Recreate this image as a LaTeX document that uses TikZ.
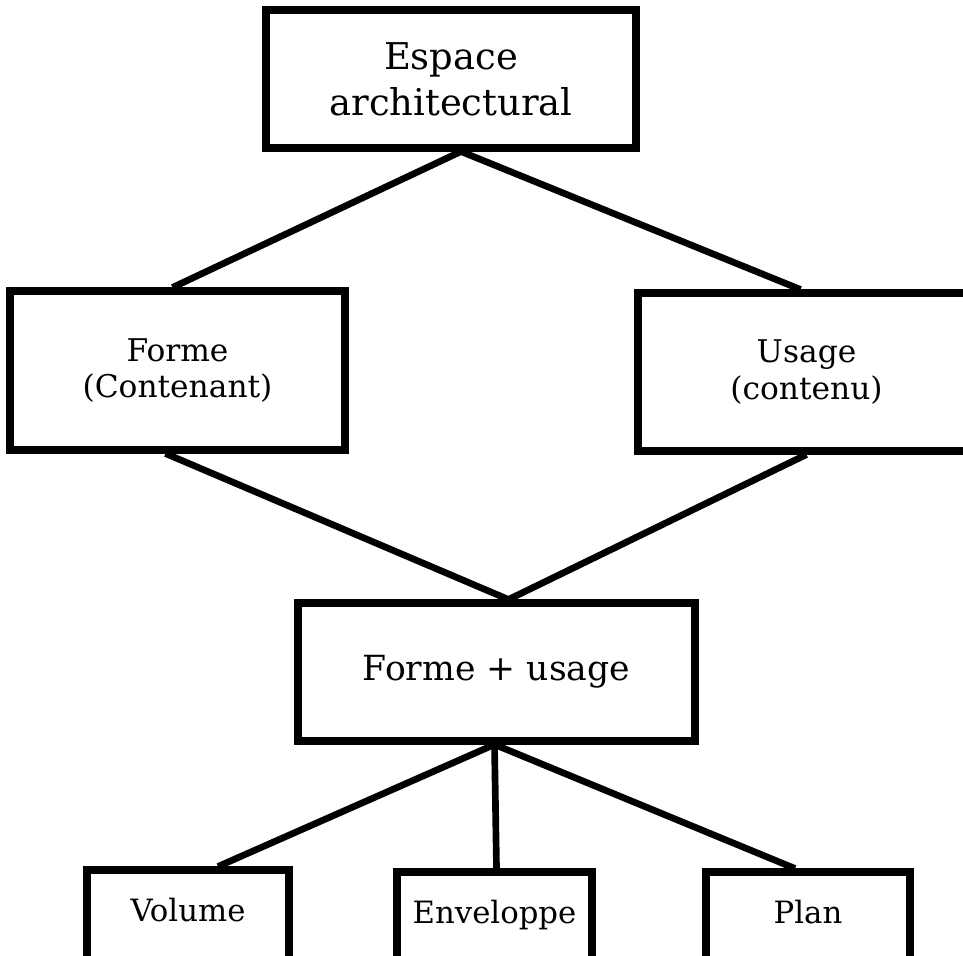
\documentclass[tikz,border=0pt]{standalone}
\usepackage{fontspec}
\setmainfont{DejaVu Serif}
\usetikzlibrary{calc}
\tikzset{
	boite/.style={draw, line width=4pt, align=center, inner sep=0pt},
	petite/.style={boite, font=\fontsize{17.5}{21}\selectfont, minimum height=110*0.02cm, text depth=30*0.02cm},
	lien/.style={line width=3.8pt}
}

\begin{document}
\begin{tikzpicture}[x=0.02cm, y=-0.02cm]
		%%%%% START %%%%%
		
		\useasboundingbox (0, 0) rectangle (963, 956);
		\clip (0, 0) rectangle (963, 956);
		
		\node[boite, minimum width=370*0.02cm, minimum height=138*0.02cm, font=\fontsize{21}{26}\selectfont] (esp) at (451, 79) {Espace\\architectural};
		
		\node[boite, minimum width=335*0.02cm, minimum height=159*0.02cm, font=\fontsize{17.8}{21}\selectfont] (forme) at (177.5, 370.5) {Forme\\(Contenant)};
		\node[boite, minimum width=337*0.02cm, minimum height=158*0.02cm, font=\fontsize{17.8}{21}\selectfont] (usage) at (806.5, 372) {Usage\\(contenu)};
		
		\node[boite, minimum width=397*0.02cm, minimum height=138*0.02cm, font=\fontsize{19.7}{24}\selectfont] (fu) at (496.5, 672) {Forme + usage};
		
		\node[petite, minimum width=202*0.02cm] (vol) at (188, 925) {Volume};
		\node[petite, minimum width=195*0.02cm] (env) at (494.5, 927) {Enveloppe};
		\node[petite, minimum width=204*0.02cm] (plan) at (808, 927) {Plan};
		
		\draw[lien] ([xshift=10*0.02cm]esp.south) -- ([xshift=-5*0.02cm]forme.north);
		\draw[lien] ([xshift=10*0.02cm]esp.south) -- ([xshift=-6*0.02cm]usage.north);
		
		\draw[lien] ([xshift=-12*0.02cm]forme.south) -- ([xshift=12*0.02cm]fu.north);
		\draw[lien] (usage.south) -- ([xshift=12*0.02cm]fu.north);
		
		\draw[lien] ([xshift=-2*0.02cm]fu.south) -- ([xshift=30*0.02cm]vol.north);
		\draw[lien] ([xshift=-2*0.02cm]fu.south) -- ([xshift=2*0.02cm]env.north);
		\draw[lien] ([xshift=-2*0.02cm]fu.south) -- ([xshift=-13*0.02cm]plan.north);
		
		%%%%% END %%%%%
	\end{tikzpicture}
\end{document}
